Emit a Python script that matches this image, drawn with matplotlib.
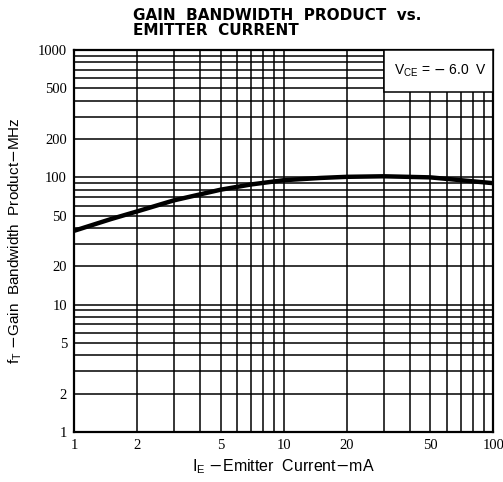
import numpy as np
import matplotlib.pyplot as plt
from matplotlib.patches import Rectangle
from matplotlib.ticker import FixedLocator, NullFormatter

# emitter current (mA) and gain bandwidth product (MHz)
ie_ma = [1, 1.5, 2, 3, 5, 7, 10, 15, 20, 30, 50, 70, 100]
ft_mhz = [38, 47, 54, 66, 80, 88, 95, 99, 101, 102, 100, 95, 90]

x_ticks = [1, 2, 5, 10, 20, 50, 100]
y_ticks = [1, 2, 5, 10, 20, 50, 100, 200, 500, 1000]


def main():
    fig = plt.figure(figsize=(5.03, 4.82), dpi=100)
    ax = fig.add_axes([0.147, 0.104, 0.834, 0.792])
    ax.set_xscale('log')
    ax.set_yscale('log')
    ax.set_xlim(1, 100)
    ax.set_ylim(1, 1000)

    ax.plot(ie_ma, ft_mhz, color='black', lw=3.2, solid_capstyle='butt', zorder=4)

    ax.xaxis.set_major_locator(FixedLocator(x_ticks))
    ax.yaxis.set_major_locator(FixedLocator(y_ticks))
    ax.set_xticklabels([str(v) for v in x_ticks], family='Liberation Serif', fontsize=10.5)
    ax.set_yticklabels([str(v) for v in y_ticks], family='Liberation Serif', fontsize=10.5)
    ax.xaxis.set_minor_locator(FixedLocator([m * d for d in (1, 10) for m in range(2, 10)]))
    ax.yaxis.set_minor_locator(FixedLocator([m * d for d in (1, 10, 100) for m in range(2, 10)]))
    ax.xaxis.set_minor_formatter(NullFormatter())
    ax.yaxis.set_minor_formatter(NullFormatter())
    ax.tick_params(which='both', length=0, pad=5)
    ax.grid(which='both', color='black', lw=1.1)
    for s in ax.spines.values():
        s.set_linewidth(1.6)

    # label box in the upper right corner
    ax.add_patch(Rectangle((30, 470), 70, 530, facecolor='white', edgecolor='black',
                           lw=1.1, zorder=3))
    ax.text(56, 690, r'V$_{\mathregular{CE}}$ = $-$ 6.0  V', ha='center', va='center',
            family='Liberation Sans', fontsize=10, zorder=5)

    ax.set_xlabel(r'I$_{\mathregular{E}}$ $-$Emitter  Current$-$mA', family='Liberation Sans',
                  fontsize=11.5, labelpad=4)
    ax.set_ylabel(r'f$_{\mathregular{T}}$ $-$Gain  Bandwidth  Product$-$MHz', family='Liberation Sans',
                  fontsize=11, labelpad=10)

    fig.text(0.264, 0.952, 'GAIN  BANDWIDTH  PRODUCT  vs.\nEMITTER  CURRENT', ha='left', va='center',
             family='DejaVu Sans', fontweight='bold', fontsize=11, linespacing=1.0)

    plt.savefig('out.png', dpi=100)


if __name__ == '__main__':
    main()
